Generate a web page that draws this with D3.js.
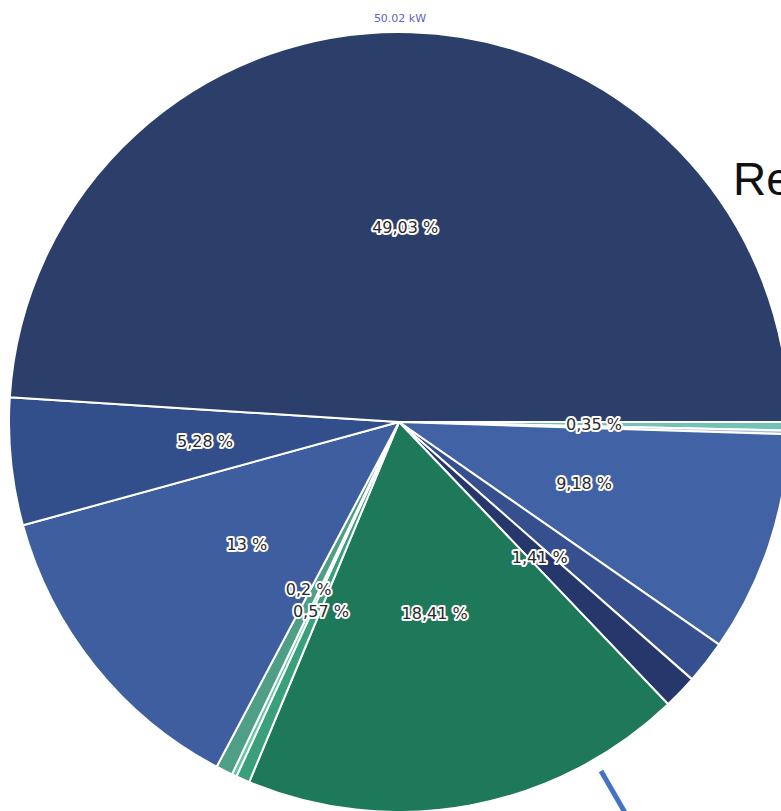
<!DOCTYPE html>
<html>
<head>
<meta charset="utf-8">
<script src="https://d3js.org/d3.v7.min.js"></script>
<style>
    body { margin: 0; background: #ffffff; }
    svg { display: block; }
</style>
</head>
<body>
<script>
"use strict";

// slices clockwise, starting at 3 o'clock
const sliceValues = [0.35, 0.15, 9.18, 1.8, 1.41, 18.41, 0.57, 0.2, 0.7, 13, 5.28, 49.03]
const sliceLabels = ["0,35 %", "", "9,18 %", "", "1,41 %", "18,41 %", "0,57 %", "0,2 %", "", "13 %", "5,28 %", "49,03 %"]
const sliceColors = ["#72c3b6", "#a9bddd", "#4163a6", "#36508f", "#26376b", "#1e785a",
    "#3a9f7b", "#62c79f", "#4f9e86", "#3e5e9f", "#324e8b", "#2c3e6a"]
const titleText = "50.02 kW"

;(function(){
    let svgContainer = ""
    const measurements = {
        width: 781,
        height: 811,
        cx: 399,
        cy: 422,
        radius: 390
    }

    window.onload = function() {
        svgContainer = d3.select('body').append("svg")
            .attr('width', measurements.width)
            .attr('height', measurements.height)

        makePie()
        makeLabels()
        makeOverlay()
    }

    function makePie() {
        const pie = d3.pie()
            .sort(null)
            .value(d => d)
            .startAngle(Math.PI / 2)
            .endAngle(Math.PI / 2 + 2 * Math.PI)

        const arc = d3.arc()
            .innerRadius(0)
            .outerRadius(measurements.radius)

        const arcs = pie(sliceValues)

        const g = svgContainer.append('g')
            .attr('transform', 'translate(' + measurements.cx + ',' + measurements.cy + ')')

        g.selectAll('path')
            .data(arcs)
            .enter()
            .append('path')
                .attr('d', arc)
                .attr('fill', (d, i) => sliceColors[i])
                .attr('stroke', '#ffffff')
                .attr('stroke-width', 2)
                .attr('stroke-linejoin', 'round')

        // label positions at half radius, pushed apart where they collide
        let placed = []
        arcs.forEach(function(d, i) {
            if (!sliceLabels[i]) return
            const c = arc.centroid(d)
            placed.push({ text: sliceLabels[i], x: c[0], y: c[1] })
        })
        const lineH = 17
        for (let i = 0; i < placed.length; i++) {
            for (let j = 0; j < i; j++) {
                const a = placed[i], b = placed[j]
                if (Math.abs(a.x - b.x) < 50 && Math.abs(a.y - b.y) < lineH) {
                    const mid = (a.y + b.y) / 2
                    const upper = a.y <= b.y ? a : b
                    const lower = upper === a ? b : a
                    upper.y = mid - lineH / 2 - 2
                    lower.y = mid + lineH / 2 + 3
                    upper.x -= 8
                }
            }
        }

        g.selectAll('text.slice')
            .data(placed)
            .enter()
            .append('text')
                .attr('class', 'slice')
                .attr('x', d => d.x)
                .attr('y', d => d.y)
                .attr('text-anchor', 'middle')
                .attr('dominant-baseline', 'central')
                .style('font-family', '"DejaVu Sans", Verdana, sans-serif')
                .style('font-size', '16px')
                .style('fill', '#2a2a2a')
                .style('stroke', '#ffffff')
                .style('stroke-width', 4)
                .style('stroke-linejoin', 'round')
                .style('paint-order', 'stroke')
                .text(d => d.text)
    }

    // small title above the pie
    function makeLabels() {
        svgContainer.append('text')
            .attr('x', 400)
            .attr('y', 22)
            .attr('text-anchor', 'middle')
            .style('font-family', '"DejaVu Sans", Verdana, sans-serif')
            .style('font-size', '11px')
            .style('fill', '#5a66c4')
            .text(titleText)
    }

    // pieces of the slide that sit on top of the chart
    function makeOverlay() {
        svgContainer.append('text')
            .attr('x', 733)
            .attr('y', 195)
            .style('font-family', '"Liberation Sans", Arial, sans-serif')
            .style('font-size', '46px')
            .style('fill', '#111111')
            .text("Re")

        svgContainer.append('line')
            .attr('x1', 601)
            .attr('y1', 771)
            .attr('x2', 627)
            .attr('y2', 816)
            .attr('stroke', '#4472c4')
            .attr('stroke-width', 5)
    }

})()
</script>
</body>
</html>
